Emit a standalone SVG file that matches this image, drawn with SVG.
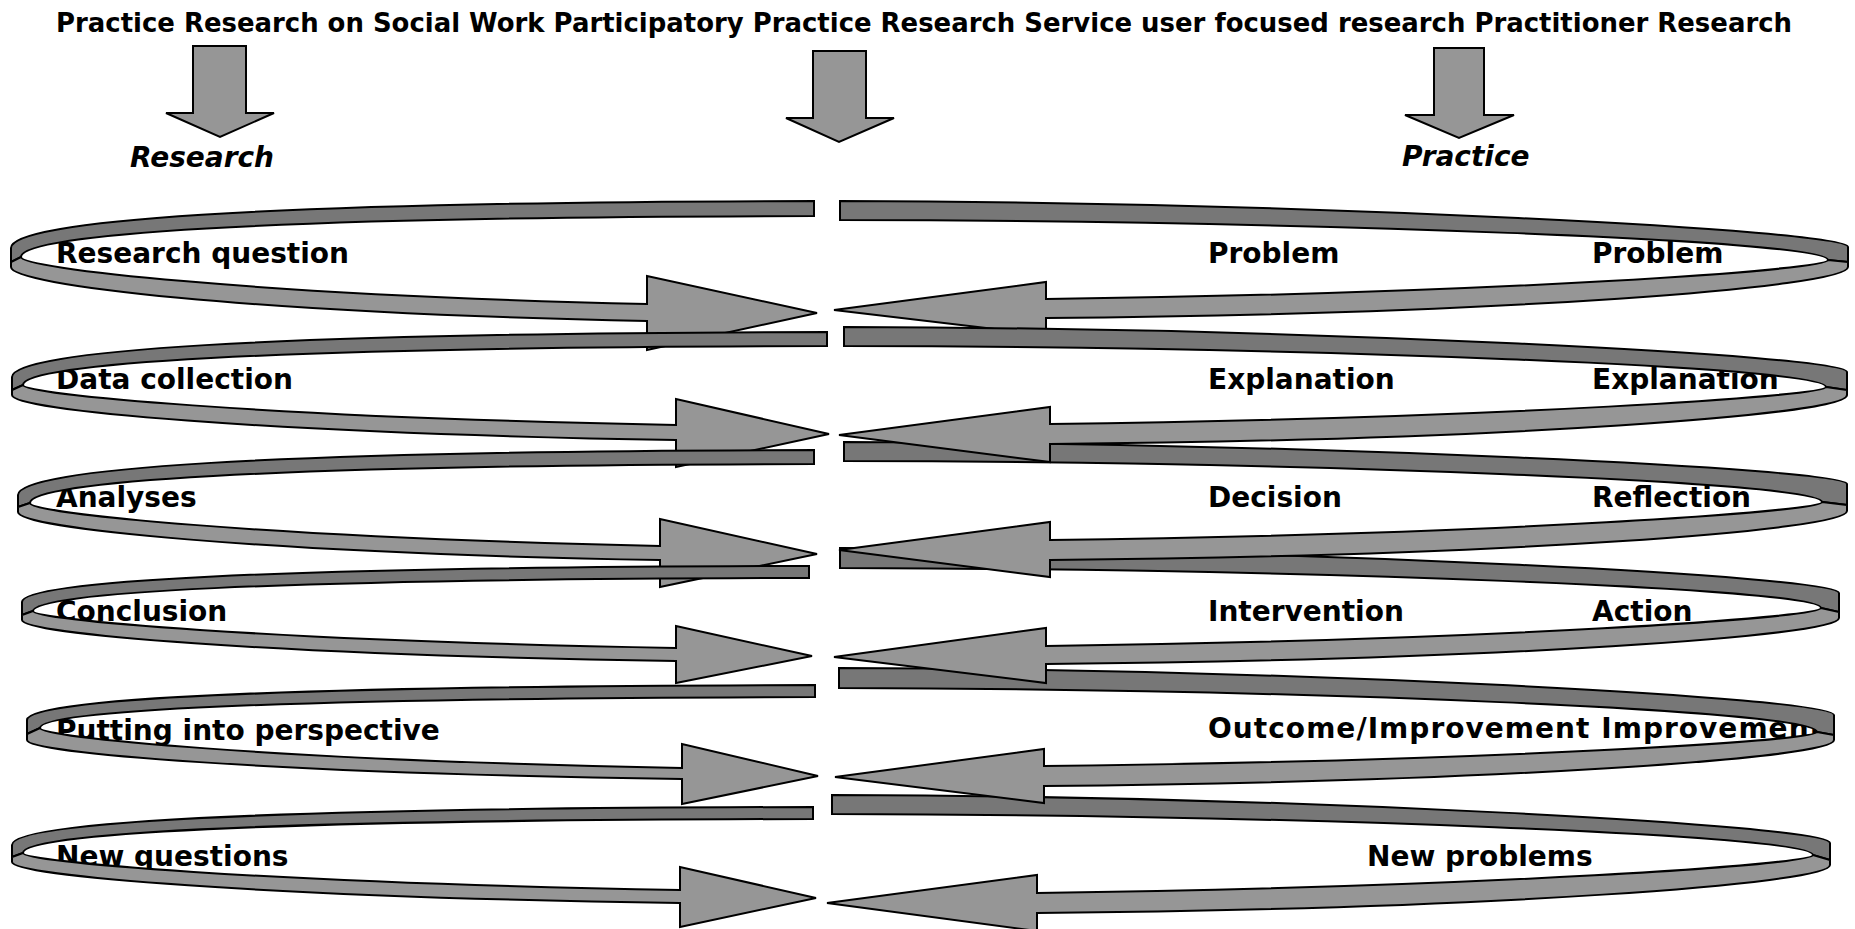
<svg xmlns="http://www.w3.org/2000/svg" width="1855" height="929" viewBox="0 0 1855 929">
<style>
.t{font-family:"DejaVu Sans","Liberation Sans",sans-serif;font-weight:bold;font-size:28px;fill:#000}
.tt{font-family:"DejaVu Sans","Liberation Sans",sans-serif;font-weight:bold;font-size:26px;fill:#000}
.ti{font-family:"DejaVu Sans","Liberation Sans",sans-serif;font-weight:bold;font-style:italic;font-size:28px;fill:#000}
.dk{fill:#777777;stroke:#000;stroke-width:2;stroke-linejoin:miter}
.lt{fill:#969696;stroke:#000;stroke-width:2;stroke-linejoin:miter}
</style>
<rect width="1855" height="929" fill="#fff"/>
<g id="title"><text class="tt" x="56" y="32" textLength="1736" lengthAdjust="spacingAndGlyphs">Practice Research on Social Work Participatory Practice Research Service user focused research Practitioner Research</text></g>
<g id="down-arrows">
<path id="arrow-research" class="lt" d="M193,46 L246,46 L246,113 L274,113 L220,137 L166,113 L193,113 Z"/>
<path id="arrow-middle" class="lt" d="M813,51 L866,51 L866,118 L894,118 L839,142 L786,118 L813,118 Z"/>
<path id="arrow-practice" class="lt" d="M1434,48 L1484,48 L1484,115 L1514,115 L1459,138 L1405,115 L1434,115 Z"/>
</g>
<g id="headings">
<text class="ti" x="130" y="167">Research</text>
<text class="ti" x="1402" y="166">Practice</text>
</g>
<g id="labels">
<text class="t" x="56" y="263">Research question</text>
<text class="t" x="56" y="389">Data collection</text>
<text class="t" x="56" y="507">Analyses</text>
<text class="t" x="56" y="621">Conclusion</text>
<text class="t" x="56" y="740">Putting into perspective</text>
<text class="t" x="56" y="866">New questions</text>
<text class="t" x="1208" y="263">Problem</text>
<text class="t" x="1208" y="389">Explanation</text>
<text class="t" x="1208" y="507">Decision</text>
<text class="t" x="1208" y="621">Intervention</text>
<text class="t" x="1208" y="738" textLength="615" lengthAdjust="spacing">Outcome/Improvement Improvement</text>
<text class="t" x="1592" y="263">Problem</text>
<text class="t" x="1592" y="389">Explanation</text>
<text class="t" x="1592" y="507">Reflection</text>
<text class="t" x="1592" y="621">Action</text>
<text class="t" x="1367" y="866">New problems</text>
</g>
<g id="connectors">
<g id="left-loops">
<path class="dk" d="M814,201 C252,202 11,221 11,248 L11,262 L21,257 C21,234.5 252,217 814,216 Z"/>
<path class="lt" d="M21,257 C21,268 246,294.6 647,304 L647,276 L817,313 L647,350 L647,321 C246,313 11,285 11,267 L11,262 Z"/>
<path class="dk" d="M827,332 C256,333 12,351 12,377 L12,390 L23,385 C23,364 256,347 827,346 Z"/>
<path class="lt" d="M23,385 C23,394 258,417 676,425 L676,399 L829,434 L676,467 L676,440 C258,433 12,410 12,395 L12,390 Z"/>
<path class="dk" d="M814,450 C257,451 18,469 18,495 L18,507 L30,503 C30,482 257,465 814,464 Z"/>
<path class="lt" d="M30,503 C30,513 256,537 660,546 L660,519 L817,554 L660,587 L660,560 C256,553 18,528 18,512 L18,507 Z"/>
<path class="dk" d="M809,566 C258,567 22,581.5 22,602 L22,615 L33,611 C33,593 258,579 809,578 Z"/>
<path class="lt" d="M33,611 C33,619.5 264,640.6 676,648 L676,626 L812,656 L676,683 L676,661 C264,655 22,633.5 22,620 L22,615 Z"/>
<path class="dk" d="M815,685 C263,686 27,700 27,720 L27,734 L40,728 C40,711 263,698 815,697 Z"/>
<path class="lt" d="M40,728 C40,737 269,760 682,768 L682,744 L818,776 L682,804 L682,779 C269,773 27,753 27,740 L27,734 Z"/>
<path class="dk" d="M813,807 C252,808 12,823 12,845 L12,857 L23,853 C23,834 252,820 813,819 Z"/>
<path class="lt" d="M23,853 C23,861.5 259,882.6 680,890 L680,867 L816,898 L680,927 L680,903 C259,897 12,875.5 12,862 L12,857 Z"/>
</g>
<g id="right-loops">
<path class="dk" d="M840,201 C1304,202 1848,230 1848,247 L1848,262 L1828,260 C1828,240 1304,221 840,220 Z"/>
<path class="lt" d="M1828,260 C1828,269.8 1503,293.2 1046,299 L1046,282 L834,310 L1046,335 L1046,318 C1503,314 1848,287.4 1848,267 L1848,262 Z"/>
<path class="dk" d="M844,327 C1305,328 1847,355 1847,372 L1847,390 L1826,387 C1826,366.5 1305,347 844,346 Z"/>
<path class="dk" d="M844,442 C1305,443 1847,468.5 1847,484 L1847,505 L1822,502 C1822,481.5 1305,462 844,461 Z"/>
<path class="dk" d="M840,548 C1300,549 1839,576 1839,593 L1839,612 L1821,608 C1821,588 1300,569 840,568 Z"/>
<path class="dk" d="M839,668 C1297,669 1834,697.6 1834,715 L1834,735 L1817,732 C1817,710 1297,689 839,688 Z"/>
<path class="dk" d="M832,795 C1291,796 1830,825 1830,843 L1830,860 L1813,855 C1813,834.5 1291,815 832,814 Z"/>
<path class="lt" d="M1826,387 C1826,396 1504,418 1050,424 L1050,407 L839,435 L1050,462 L1050,444 C1504,440 1847,415 1847,395 L1847,390 Z"/>
<path class="lt" d="M1822,502 C1822,511.5 1504,534 1050,540 L1050,522 L839,550 L1050,577 L1050,560 C1504,556 1847,530.6 1847,511 L1847,505 Z"/>
<path class="lt" d="M1821,608 C1821,617.5 1498,640 1046,646 L1046,628 L834,657 L1046,683 L1046,664 C1498,660 1839,636 1839,618 L1839,612 Z"/>
<path class="lt" d="M1817,732 C1817,740.5 1494,761 1044,766 L1044,749 L835,777 L1044,803 L1044,786 C1494,782 1834,758 1834,740 L1834,735 Z"/>
<path class="lt" d="M1813,855 C1813,864.5 1489,887 1037,893 L1037,875 L827,903 L1037,931 L1037,913 C1489,909 1830,884 1830,865 L1830,860 Z"/>
</g>
</g>
</svg>
